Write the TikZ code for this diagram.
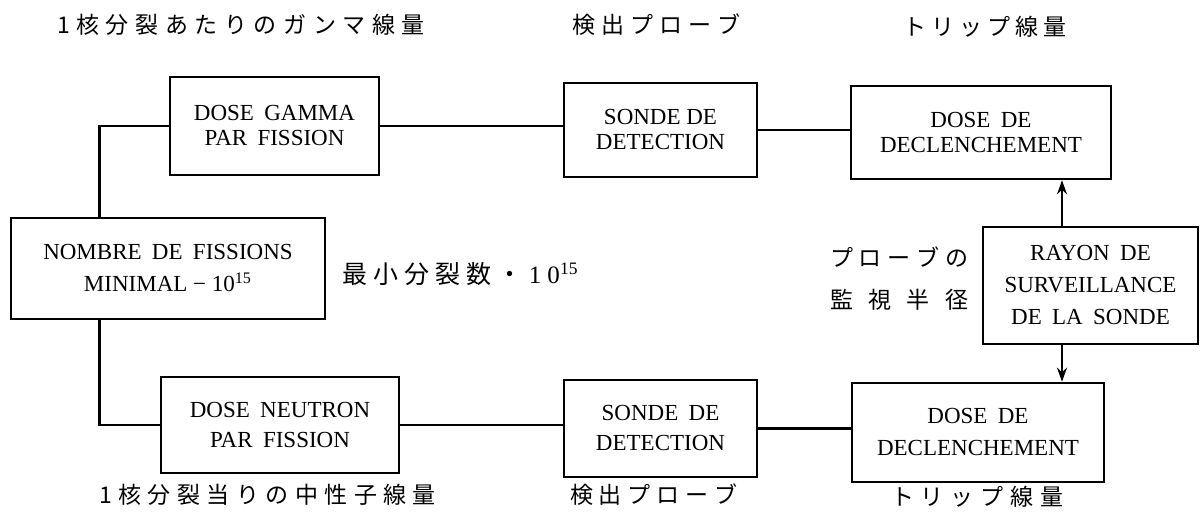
\documentclass[tikz,border=0pt]{standalone}
\usepackage{fontspec}
\setmainfont{Liberation Serif}
\newfontfamily\jp{Noto Sans CJK JP}
\usetikzlibrary{arrows.meta}
\newcommand\spr[2]{\makebox[#1][s]{#2}}
\newcommand\widesp{\spaceskip=.45em plus .1em minus .05em\relax}
\begin{document}
\begin{tikzpicture}[x=0.5pt,y=-0.5pt,
  box/.style={draw, line width=1.3pt, inner sep=0pt, align=center},
  bt/.style={font=\fontsize{11.5}{#1}\selectfont},
  conn/.style={line width=1.2pt},
  arr/.style={conn, -{Stealth[length=7pt,width=5pt]}},
  jl/.style={inner sep=0pt, font=\jp\fontsize{11.5}{13}\selectfont}]
\useasboundingbox (0,0) rectangle (1200,522);
% boxes
\node[box, bt=12.5pt, minimum width=104.5pt, minimum height=49pt] (gamma) at (274.5,126) {\widesp DOSE GAMMA\\\widesp PAR FISSION};
\node[box, bt=12.5pt, minimum width=96.5pt, minimum height=47pt] (sondeT) at (660.5,130) {SONDE DE\\DETECTION};
\node[box, bt=12.5pt, minimum width=130pt, minimum height=46.5pt] (declT) at (981,132.5) {\widesp DOSE DE\\DECLENCHEMENT};
\node[box, bt=16pt, minimum width=157pt, minimum height=50.5pt] (nombre) at (168,268.5) {\widesp NOMBRE DE FISSIONS\\MINIMAL − 10\textsuperscript{15}};
\node[box, bt=16pt, minimum width=107.5pt, minimum height=58.5pt] (rayon) at (1090.5,285.5) {\widesp RAYON DE\\SURVEILLANCE\\\widesp DE LA SONDE};
\node[box, bt=15pt, minimum width=119pt, minimum height=48pt] (neutron) at (280,425) {\widesp DOSE NEUTRON\\\widesp PAR FISSION};
\node[box, bt=15pt, minimum width=96.5pt, minimum height=48.5pt] (sondeB) at (660.5,428.5) {\widesp SONDE DE\\DETECTION};
\node[box, bt=16pt, minimum width=126pt, minimum height=49.5pt] (declB) at (978,432.5) {\widesp DOSE DE\\DECLENCHEMENT};
% connectors
\coordinate (lx) at (99.5,0);
\coordinate (ax) at (1062,0);
\draw[conn] (gamma.west) -| (lx |- nombre.north);
\draw[conn] (lx |- nombre.south) |- (neutron.west);
\draw[conn] (gamma.east) -- (gamma.east -| sondeT.west);
\draw[conn] (sondeT.east) -- (sondeT.east -| declT.west);
\draw[conn] (neutron.east) -- (neutron.east -| sondeB.west);
\draw[conn] (sondeB.east) -- (sondeB.east -| declB.west);
\draw[arr] (ax |- rayon.north) -- (ax |- declT.south);
\draw[arr] (ax |- rayon.south) -- (ax |- declB.north);
% japanese labels
\node[jl] (t1) at (241,25) {\spr{184pt}{1 核 分 裂 あ た り の ガ ン マ 線 量}};
\node[jl] (t2) at (656.5,25) {\spr{84.5pt}{検 出 プ ロ ー ブ}};
\node[jl] (t3) at (985,27) {\spr{82pt}{ト リ ッ プ 線 量}};
\node[jl] (b1) at (267.5,495) {\spr{168.5pt}{1 核 分 裂 当 り の 中 性 子 線 量}};
\node[jl] (b2) at (654,495) {\spr{84pt}{検 出 プ ロ ー ブ}};
\node[jl] (b3) at (977,497) {\spr{86pt}{ト リ ッ プ 線 量}};
\node[jl, font=\jp\fontsize{12.5}{14}\selectfont] (mid) at (460.5,274) {\spr{118pt}{最 小 分 裂 数 ・ {\rmfamily 1} {\rmfamily 0\textsuperscript{15}}}};
\node[jl] (p1) at (899,257) {\spr{69pt}{プ ロ ー ブ の}};
\node[jl] (p2) at (899,300) {\spr{69pt}{監 視 半 径}};
\end{tikzpicture}
\end{document}
